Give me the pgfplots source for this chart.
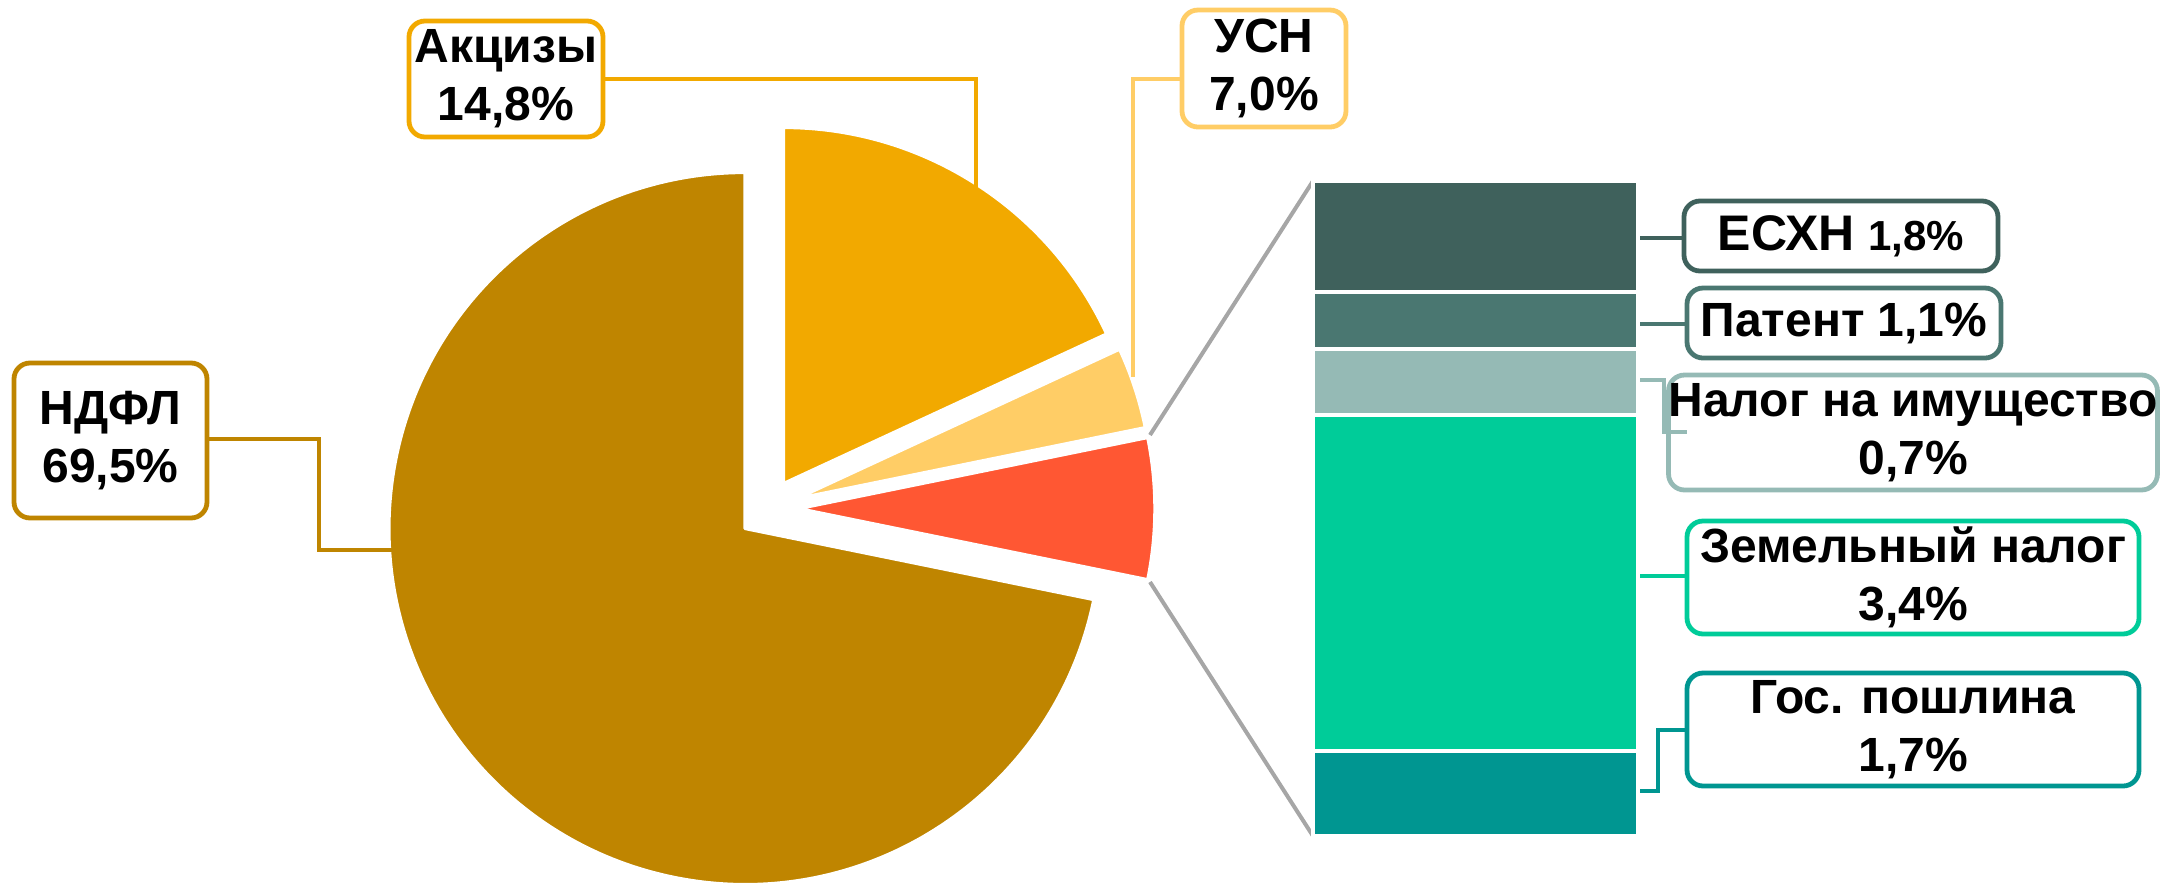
\documentclass[border=0pt]{standalone}
\usepackage{pgfplots}
\pgfplotsset{compat=1.18}
\usepackage{fontspec}
\setmainfont{Liberation Sans}
\definecolor{cNdfl}{HTML}{BF8500}
\definecolor{cAkc}{HTML}{F2A900}
\definecolor{cUsn}{HTML}{FFCD66}
\definecolor{cOth}{HTML}{FF5733}
\definecolor{cEshn}{HTML}{3F615C}
\definecolor{cPat}{HTML}{4A7771}
\definecolor{cImu}{HTML}{95BAB5}
\definecolor{cZem}{HTML}{00CC99}
\definecolor{cGos}{HTML}{009691}
\definecolor{cGray}{HTML}{A6A6A6}
\newcommand\lbl{\fontsize{12}{14.5}\selectfont\bfseries}
% pie shares (as drawn), percent
\def\vAkc{18.1}\def\vUsn{3.7}\def\vOth{6.4}\def\vNdfl{71.8}
\pgfmathsetmacro\aA{90-3.6*\vAkc}
\pgfmathsetmacro\aB{\aA-3.6*\vUsn}
\pgfmathsetmacro\aC{\aB-3.6*\vOth}
\pgfmathsetmacro\aD{\aC-3.6*\vNdfl}
\newcommand\slice[5]{\fill[#5, draw=white, line width=0.8pt, line join=round] (axis cs:#1,#2) -- ++(#3:89pt) arc[start angle=#3, end angle=#4, radius=89pt] -- cycle;}
% box: x1 y1 x2 y2 color text
\newcommand\bx[6]{%
\node[draw=#5, line width=1.2pt, rounded corners=4pt, fill=white, text=black, font=\lbl, align=center,
 minimum width={(#3-#1)*0.25pt}, minimum height={(#4-#2)*0.25pt}, inner sep=0pt] at (axis cs:{(#1+#3)/2},{(#2+#4)/2}) {#6};}
\begin{document}
\begin{tikzpicture}
\begin{axis}[hide axis, x=0.25pt, y=0.25pt, xmin=0, xmax=2164, ymin=0, ymax=882,
  ybar stacked, bar width=325, clip=true]
% leader lines of the pie
\draw[cAkc, line width=1pt] (axis cs:603,803) -- (axis cs:975.5,803) -- (axis cs:975.5,690);
\draw[cUsn, line width=1pt] (axis cs:1182,803) -- (axis cs:1133,803) -- (axis cs:1133,505);
\draw[cNdfl, line width=1pt] (axis cs:207,443) -- (axis cs:319,443) -- (axis cs:319,332.5) -- (axis cs:395,332.5);
% pie slices
\slice{783.6}{398.5}{90}{\aA}{cAkc}
\slice{796.5}{383.3}{\aA}{\aB}{cUsn}
\slice{798.9}{373.4}{\aB}{\aC}{cOth}
\slice{745}{353.5}{\aC}{\aD}{cNdfl}
% stacked bar
\addplot[draw=none, fill=none, forget plot] coordinates {(1475.5,45.8)};
\addplot[fill=cGos, draw=white, line width=1pt] coordinates {(1475.5,85.7)};
\addplot[fill=cZem, draw=white, line width=1pt] coordinates {(1475.5,335.9)};
\addplot[fill=cImu, draw=white, line width=1pt] coordinates {(1475.5,65.5)};
\addplot[fill=cPat, draw=white, line width=1pt] coordinates {(1475.5,57.4)};
\addplot[fill=cEshn, draw=white, line width=1pt] coordinates {(1475.5,110.5)};
% gray connectors
\draw[cGray, line width=1pt] (axis cs:1150,447) -- (axis cs:1313,701);
\draw[cGray, line width=1pt] (axis cs:1150,300) -- (axis cs:1313,46);
% bar leader lines
\draw[cEshn, line width=1pt] (axis cs:1638,644) -- (axis cs:1684,644);
\draw[cPat, line width=1pt] (axis cs:1638,558) -- (axis cs:1687,558);
\draw[cImu, line width=1pt] (axis cs:1638,502) -- (axis cs:1664,502) -- (axis cs:1664,450) -- (axis cs:1687,450);
\draw[cZem, line width=1pt] (axis cs:1638,305.7) -- (axis cs:1687,305.7);
\draw[cGos, line width=1pt] (axis cs:1638,91.4) -- (axis cs:1658,91.4) -- (axis cs:1658,152) -- (axis cs:1687,152);
% boxes with labels
\bx{409}{745}{603}{861}{cAkc}{Акцизы\\14,8\%}
\bx{1182}{755}{1346}{872}{cUsn}{УСН\\7,0\%}
\bx{14}{364}{207}{519}{cNdfl}{НДФЛ\\69,5\%}
\bx{1684}{611}{1998}{681}{cEshn}{{\fontsize{12.5}{14}\selectfont ЕСХН} {\fontsize{10.5}{14}\selectfont 1,8\%}}
\bx{1687}{524}{2001}{594}{cPat}{Патент 1,1\%}
\bx{1687}{392}{2139}{507}{cImu}{Налог на имущество\\0,7\%}
\bx{1687}{248}{2139}{361}{cZem}{Земельный налог\\3,4\%}
\bx{1687}{96}{2139}{209}{cGos}{Гос. пошлина\\1,7\%}
\end{axis}
\pgfresetboundingbox
\path[use as bounding box] (current axis.south west) rectangle (current axis.north east);
\end{tikzpicture}
\end{document}
